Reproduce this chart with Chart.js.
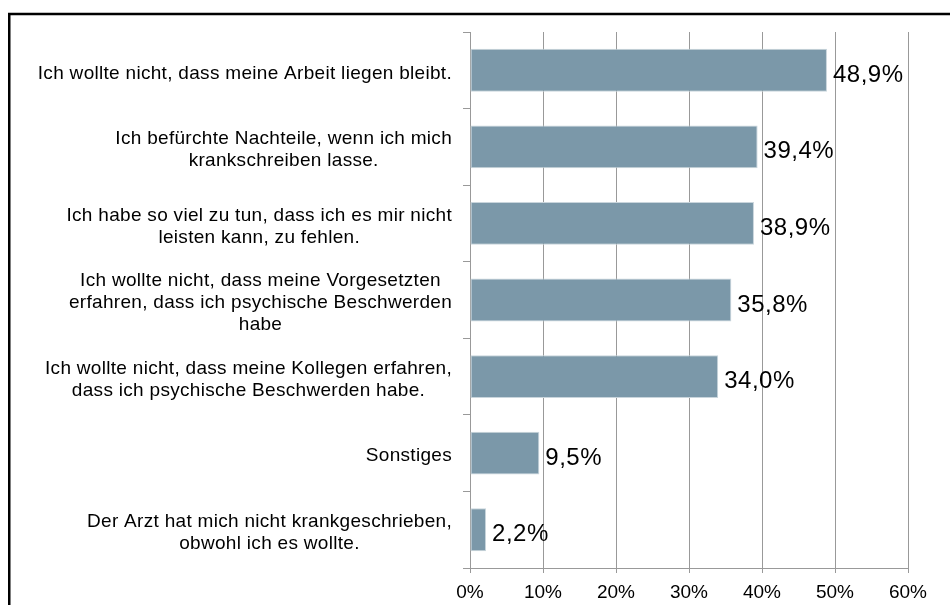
<!DOCTYPE html>
<html lang="de">
<head>
<meta charset="utf-8">
<title>Gründe für Präsentismus</title>
<script src="https://cdn.jsdelivr.net/npm/chart.js@4/dist/chart.umd.min.js"></script>
<style>
    html, body { margin: 0; padding: 0; background: #fff; overflow: hidden; }
    .chart-wrap { position: relative; width: 950px; height: 605px; }
</style>
</head>
<body>
<div class="chart-wrap">
    <canvas id="reasonsChart"></canvas>
</div>
<script>
// Categories (multi-line, as wrapped in the chart)
const reasons = [
    ['Ich wollte nicht, dass meine Arbeit liegen bleibt.'],
    ['Ich befürchte Nachteile, wenn ich mich', 'krankschreiben lasse.'],
    ['Ich habe so viel zu tun, dass ich es mir nicht', 'leisten kann, zu fehlen.'],
    ['Ich wollte nicht, dass meine Vorgesetzten', 'erfahren, dass ich psychische Beschwerden', 'habe'],
    ['Ich wollte nicht, dass meine Kollegen erfahren,', 'dass ich psychische Beschwerden habe.'],
    ['Sonstiges'],
    ['Der Arzt hat mich nicht krankgeschrieben,', 'obwohl ich es wollte.']
];
const shares = [48.9, 39.4, 38.9, 35.8, 34.0, 9.5, 2.2];
const xTicks = [0, 10, 20, 30, 40, 50, 60];

const FONT = '"Liberation Sans", Arial, sans-serif';
const fmtPct = v => v.toFixed(1).replace('.', ',') + '%';

// Black frame around the chart (runs off the right/bottom edge)
const framePlugin = {
    id: 'frame',
    beforeDraw(chart) {
        const ctx = chart.ctx;
        ctx.save();
        ctx.strokeStyle = '#000';
        ctx.lineWidth = 2.5;
        ctx.strokeRect(9.25, 14, 1200, 1200);
        ctx.restore();
    }
};

// Category labels: block right-aligned next to the axis, lines centered inside it
const categoryLabels = {
    id: 'categoryLabels',
    afterDraw(chart) {
        const ctx = chart.ctx;
        const yScale = chart.scales.y;
        const rightEdge = 452;
        const lineHeight = 22;
        ctx.save();
        ctx.font = '19px ' + FONT;
        ctx.letterSpacing = '0.3px';
        ctx.fillStyle = '#000';
        ctx.textAlign = 'center';
        ctx.textBaseline = 'middle';
        chart.data.labels.forEach((lines, i) => {
            const cy = yScale.getPixelForValue(i) + 3;
            const blockW = Math.max(...lines.map(l => ctx.measureText(l).width));
            const cx = rightEdge - blockW / 2;
            const y0 = cy - (lines.length - 1) * lineHeight / 2;
            lines.forEach((l, k) => ctx.fillText(l, cx, y0 + k * lineHeight));
        });
        ctx.restore();
    }
};

// Value labels at the end of each bar
const valueLabels = {
    id: 'valueLabels',
    afterDatasetsDraw(chart) {
        const ctx = chart.ctx;
        const meta = chart.getDatasetMeta(0);
        ctx.save();
        ctx.font = '24px ' + FONT;
        ctx.letterSpacing = '0.5px';
        ctx.fillStyle = '#000';
        ctx.textAlign = 'left';
        ctx.textBaseline = 'middle';
        meta.data.forEach((bar, i) => {
            ctx.fillText(fmtPct(chart.data.datasets[0].data[i]), bar.x + 6, bar.y + 5);
        });
        ctx.restore();
    }
};

const ctx = document.getElementById('reasonsChart').getContext('2d');

new Chart(ctx, {
    type: 'bar',
    data: {
        labels: reasons,
        datasets: [{
            data: shares,
            backgroundColor: '#7b98a9',
            borderColor: '#c9d5dc',
            borderWidth: 1,
            borderSkipped: false,
            categoryPercentage: 1,
            barPercentage: 0.56
        }]
    },
    options: {
        indexAxis: 'y',
        responsive: true,
        maintainAspectRatio: false,
        animation: false,
        layout: { padding: { top: 32, right: 42, left: 0, bottom: 0 } },
        plugins: {
            legend: { display: false },
            tooltip: { enabled: false }
        },
        scales: {
            x: {
                min: 0,
                max: 60,
                afterFit: s => { s.height = 37; },
                afterBuildTicks: s => { s.ticks = xTicks.map(v => ({ value: v })); },
                ticks: {
                    callback: v => v + '%',
                    color: '#000',
                    padding: 8,
                    maxRotation: 0,
                    font: { family: FONT, size: 19 }
                },
                grid: {
                    color: '#999999',
                    lineWidth: 1,
                    tickLength: 5
                },
                border: { color: '#999999' }
            },
            y: {
                afterFit: s => { s.width = 470; },
                ticks: { display: false },
                grid: {
                    offset: true,
                    drawOnChartArea: false,
                    color: '#999999',
                    tickLength: 7
                },
                border: { color: '#999999' }
            }
        }
    },
    plugins: [framePlugin, categoryLabels, valueLabels]
});
</script>
</body>
</html>
